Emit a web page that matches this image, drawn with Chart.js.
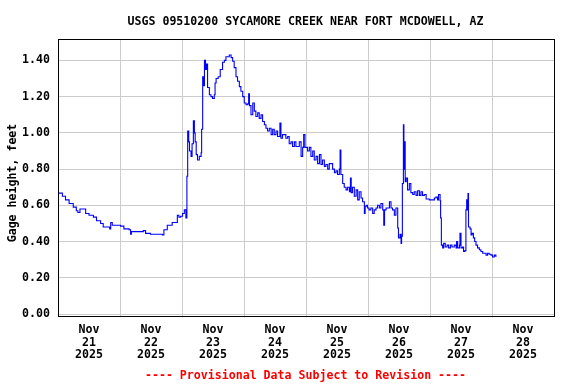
<!DOCTYPE html>
<html><head><meta charset="utf-8">
<style>html,body{margin:0;padding:0;background:#fff}#wrap{width:576px;height:384px}</style>
<script src="https://cdn.jsdelivr.net/npm/chart.js@4/dist/chart.umd.min.js"></script>
</head><body><div id="wrap"><canvas id="c" width="576" height="384"></canvas></div>
<script>
const chartTitle = 'USGS 09510200 SYCAMORE CREEK NEAR FORT MCDOWELL, AZ';
const footerText = '---- Provisional Data Subject to Revision ----';
const yAxisTitle = 'Gage height, feet';
const dayLabels = [['Nov','21','2025'],['Nov','22','2025'],['Nov','23','2025'],['Nov','24','2025'],['Nov','25','2025'],['Nov','26','2025'],['Nov','27','2025'],['Nov','28','2025']];
const yTickValues = [0, 0.2, 0.4, 0.6, 0.8, 1.0, 1.2, 1.4];
// hours since Nov 21 2025 00:00
const hours = [0,1.7,2.9,4.3,5.9,7.1,7.7,8.5,9.8,10.7,12,13.7,14.9,16.5,17.5,19.7,20,20.4,21,24.2,25.5,27.5,28.1,28.4,32.6,33,33.9,35.8,37.8,40.4,41,42.3,44.2,45.4,46.2,46.8,47.5,48.2,48.9,49.5,49.9,50.2,50.6,50.9,51.5,51.9,52.4,52.8,53.1,53.5,54,54.7,55.4,55.6,56,56.4,56.7,57.1,57.5,57.9,58.6,59.2,59.8,60.5,60.8,61.2,62,62.8,63.7,64.4,65,66.3,67,67.6,68.2,68.9,69.5,70.2,70.8,71.5,72.1,72.8,73.4,73.8,74.1,74.7,75.4,76,76.6,77.3,77.9,78.6,79.2,79.9,80.5,81.1,81.8,82.5,83.1,83.7,84.4,85,85.9,86.3,86.9,88.2,88.9,89.5,90.2,90.8,91.5,92.1,93.4,94.1,94.7,95.1,95.6,96.6,97.3,97.9,98.6,99.2,99.9,100.5,101.2,101.8,102.4,103.1,103.7,104.4,105,106.3,107,107.6,108.2,108.9,109.2,109.5,110.2,110.8,111.5,112.1,112.8,113.2,113.5,114,114.7,115.4,116,116.6,117.3,117.9,118.6,118.9,119.4,119.8,120.4,121.1,121.8,122.4,123.1,123.7,124.4,125,125.7,126.1,126.4,127,128.3,128.9,129.5,130.2,130.8,131.5,131.8,132.4,132.8,133,133.3,133.7,133.9,134.2,134.4,134.8,135.3,136,136.6,137.3,137.9,138.6,139.2,139.9,140.5,141.1,141.8,142.5,143.7,145,145.7,146.3,146.9,147.3,147.9,148.1,148.4,148.9,149.3,149.9,150.6,151.2,151.9,152.5,153.4,154.1,154.3,154.7,155.4,155.6,156,156.6,157,157.5,157.9,158.2,158.4,158.7,158.9,159.5,159.9,160.3,160.8,161.3,161.8,162.4,163.1,163.7,164.4,165,165.7,166.3,166.9,167.6,168.2,168.9,169.5];
const gage = [0.667,0.65,0.63,0.61,0.59,0.57,0.56,0.58,0.58,0.555,0.545,0.535,0.515,0.50,0.48,0.48,0.47,0.505,0.49,0.485,0.47,0.465,0.44,0.455,0.455,0.46,0.445,0.44,0.44,0.437,0.465,0.49,0.505,0.505,0.545,0.535,0.54,0.555,0.575,0.53,0.76,1.01,0.95,0.90,0.87,0.94,1.067,1.00,0.95,0.88,0.85,0.87,0.89,1.02,1.31,1.26,1.40,1.35,1.38,1.25,1.21,1.20,1.19,1.21,1.275,1.30,1.31,1.35,1.39,1.40,1.42,1.43,1.415,1.395,1.36,1.31,1.285,1.255,1.23,1.20,1.165,1.155,1.16,1.215,1.15,1.10,1.165,1.12,1.09,1.11,1.08,1.10,1.063,1.045,1.025,1.01,1.025,0.99,1.02,0.99,1.01,0.98,1.054,0.97,0.99,0.97,0.98,0.94,0.95,0.925,0.95,0.925,0.95,0.87,0.92,0.99,0.92,0.90,0.92,0.87,0.90,0.85,0.87,0.83,0.88,0.825,0.85,0.815,0.825,0.80,0.83,0.80,0.78,0.79,0.77,0.80,0.905,0.77,0.72,0.70,0.685,0.70,0.675,0.75,0.67,0.70,0.65,0.685,0.63,0.675,0.64,0.62,0.555,0.595,0.60,0.585,0.575,0.585,0.555,0.575,0.585,0.60,0.585,0.61,0.575,0.49,0.575,0.585,0.62,0.585,0.575,0.545,0.585,0.475,0.42,0.44,0.39,0.43,0.72,1.045,0.80,0.95,0.73,0.75,0.685,0.72,0.67,0.66,0.675,0.655,0.68,0.655,0.675,0.655,0.66,0.635,0.63,0.63,0.64,0.645,0.63,0.66,0.625,0.53,0.38,0.365,0.39,0.37,0.38,0.365,0.38,0.37,0.38,0.365,0.40,0.365,0.38,0.445,0.365,0.37,0.345,0.35,0.575,0.63,0.575,0.665,0.48,0.47,0.437,0.445,0.42,0.40,0.38,0.365,0.355,0.345,0.335,0.335,0.325,0.335,0.33,0.325,0.315,0.325,0.315];

const FONT = 'DejaVu Sans Mono';
const points = hours.map((h, i) => ({x: h, y: gage[i]}));
const xTicks = [];
for (let h = 0; h <= 192; h += 12) xTicks.push(h);

const decor = {
  id: 'decor',
  afterDraw(chart) {
    const {ctx, chartArea: a} = chart;
    ctx.save();
    ctx.strokeStyle = '#000';
    ctx.lineWidth = 1;
    ctx.strokeRect(Math.round(a.left) + 0.5, Math.round(a.top) + 0.5, Math.round(a.right - a.left), Math.round(a.bottom - a.top));
    ctx.font = 'bold 11.6px "' + FONT + '"';
    ctx.textAlign = 'center';
    ctx.textBaseline = 'alphabetic';
    ctx.fillStyle = '#000';
    const cx = 305.5;
    ctx.fillText(chartTitle, cx, 24.5);
    ctx.fillStyle = '#ff0000';
    ctx.fillText(footerText, cx, 378.5);
    ctx.fillStyle = '#000';
    ctx.translate(15.5, 183);
    ctx.rotate(-Math.PI / 2);
    ctx.fillText(yAxisTitle, 0, 0);
    ctx.restore();
  }
};

new Chart(document.getElementById('c'), {
  type: 'line',
  data: { datasets: [{ data: points, borderColor: '#0000ff', borderWidth: 1.1, pointRadius: 0, fill: false, stepped: true, tension: 0 }] },
  options: {
    responsive: false, animation: false, devicePixelRatio: 1,
    layout: { padding: { top: 39, right: 22, left: 0, bottom: 0 } },
    plugins: { legend: { display: false }, tooltip: { enabled: false } },
    scales: {
      x: {
        type: 'linear', min: 0, max: 192,
        afterFit(s) { s.height = 68; },
        afterBuildTicks(s) { s.ticks = xTicks.map(v => ({value: v})); },
        grid: { color: c => (c.tick && c.tick.value % 24 === 0) ? '#cccccc' : 'rgba(0,0,0,0)', drawTicks: false, lineWidth: 1 },
        border: { display: false },
        ticks: {
          autoSkip: false, maxRotation: 0, minRotation: 0, padding: 7, color: '#000',
          font: { family: FONT, size: 11.6, weight: 'bold', lineHeight: 1.12 },
          callback: v => (v % 24 === 12) ? dayLabels[(v - 12) / 24] : ''
        }
      },
      y: {
        type: 'linear', min: -0.011, max: 1.518,
        afterFit(s) { s.width = 58; },
        afterBuildTicks(s) { s.ticks = yTickValues.map(v => ({value: v})); },
        grid: { color: '#cccccc', drawTicks: false, lineWidth: 1 },
        border: { display: false },
        ticks: {
          padding: 8, color: '#000',
          font: { family: FONT, size: 11.6, weight: 'bold' },
          callback: v => Number(v).toFixed(2)
        }
      }
    }
  },
  plugins: [decor]
});
</script></body></html>
